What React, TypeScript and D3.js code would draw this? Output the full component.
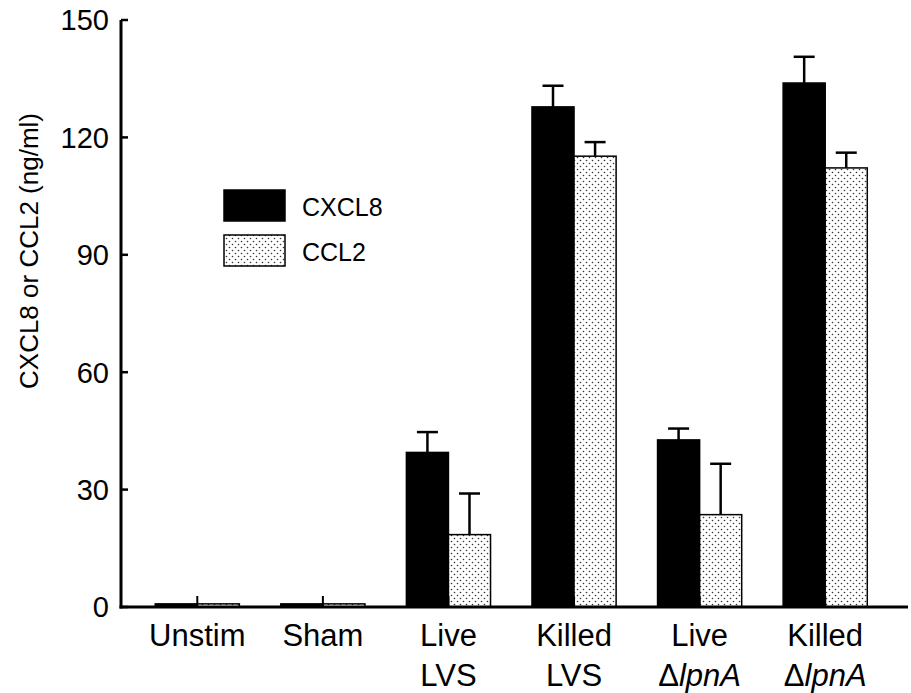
import React from "react";
import * as d3 from "d3";

const categories = ["Unstim", "Sham", "Live LVS", "Killed LVS", "Live ΔlpnA", "Killed ΔlpnA"];
const series = ["CXCL8", "CCL2"];
const cxcl8 = [0.8, 0.8, 39.5, 127.8, 42.7, 133.9];
const cxcl8Err = [0, 0, 5.2, 5.4, 2.9, 6.7];
const ccl2 = [0.8, 0.8, 18.5, 115.2, 23.6, 112.2];
const ccl2Err = [0, 0, 10.5, 3.6, 13.0, 3.9];
const yTicks = [0, 30, 60, 90, 120, 150];
const labelLines: [string, string, boolean][] = [
  ["Unstim", "", false],
  ["Sham", "", false],
  ["Live", "LVS", false],
  ["Killed", "LVS", false],
  ["Live", "lpnA", true],
  ["Killed", "lpnA", true],
];

const W = 911, H = 693;
const x0 = 121, xEnd = 908, yTop = 20, yBase = 607;

export default function App() {
  const y = d3.scaleLinear().domain([0, 150]).range([yBase, yTop]);
  const x = d3.scaleBand().domain(categories).range([134.5, 888]).paddingInner(0.33).paddingOuter(0.165);
  const xs = d3.scaleBand().domain(series).range([0, x.bandwidth()]);
  const font = "'Liberation Sans', Arial, sans-serif";
  const vals = [cxcl8, ccl2];
  const errs = [cxcl8Err, ccl2Err];
  return (
    <svg width={W} height={H} style={{ position: "absolute", left: 0, top: 0, background: "#fff" }} fontFamily={font}>
      <defs>
        <pattern id="dots" width="6" height="6" patternUnits="userSpaceOnUse">
          <rect width="6" height="6" fill="#fff" />
          <circle cx="1.5" cy="1.5" r="0.8" fill="#333" />
          <circle cx="4.5" cy="4.5" r="0.8" fill="#333" />
        </pattern>
      </defs>
      {categories.map((c, i) => (
        <g key={c}>
          {series.map((s, j) => {
            const bx = (x(c) as number) + (xs(s) as number);
            const bw = xs.bandwidth();
            const v = vals[j][i];
            const e = errs[j][i];
            const cx = bx + bw / 2;
            return (
              <g key={s}>
                {e > 0 && (
                  <g stroke="#000" strokeWidth={2.5}>
                    <line x1={cx} x2={cx} y1={y(v)} y2={y(v + e)} />
                    <line x1={cx - 10.5} x2={cx + 10.5} y1={y(v + e)} y2={y(v + e)} />
                  </g>
                )}
                <rect x={bx} y={y(v)} width={bw} height={yBase - y(v)}
                  fill={j === 0 ? "#000" : "url(#dots)"} stroke="#000" strokeWidth={1.5} />
              </g>
            );
          })}
          <line x1={(x(c) as number) + x.bandwidth() / 2} x2={(x(c) as number) + x.bandwidth() / 2}
            y1={yBase} y2={yBase - 11} stroke="#000" strokeWidth={2} />
        </g>
      ))}
      <line x1={x0} x2={x0} y1={yTop} y2={yBase + 1.5} stroke="#000" strokeWidth={3} />
      <line x1={x0 - 1.5} x2={xEnd} y1={yBase} y2={yBase} stroke="#000" strokeWidth={3} />
      {yTicks.map((t) => (
        <g key={t}>
          <line x1={x0} x2={x0 + 7} y1={y(t)} y2={y(t)} stroke="#000" strokeWidth={2.5} />
          <text x={x0 - 12} y={y(t)} dy="0.36em" textAnchor="end" fontSize={29}>{t}</text>
        </g>
      ))}
      <text transform={`translate(38,251) rotate(-90)`} textAnchor="middle" fontSize={26}>CXCL8 or CCL2 (ng/ml)</text>
      {categories.map((c, i) => {
        const cx = (x(c) as number) + x.bandwidth() / 2;
        const [l1, l2, it] = labelLines[i];
        return (
          <g key={c} fontSize={31} textAnchor="middle">
            <text x={cx} y={646}>{l1}</text>
            {l2 && (
              <text x={cx} y={686}>
                {it ? <><tspan>Δ</tspan><tspan fontStyle="italic">{l2}</tspan></> : l2}
              </text>
            )}
          </g>
        );
      })}
      <rect x={224} y={190} width={61} height={31} fill="#000" stroke="#000" strokeWidth={1.5} />
      <text x={302} y={216} fontSize={25}>CXCL8</text>
      <rect x={224} y={235} width={61} height={31} fill="url(#dots)" stroke="#000" strokeWidth={1.5} />
      <text x={302} y={261} fontSize={25}>CCL2</text>
    </svg>
  );
}
